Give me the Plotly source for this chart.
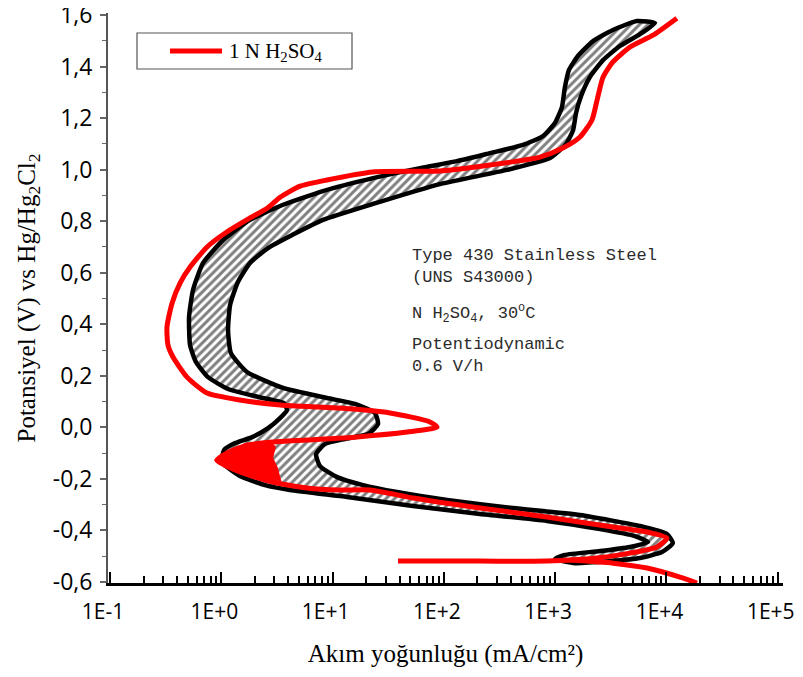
import plotly.graph_objects as go

# ---------------- data (current density mA/cm², potential V) ----------------
# outline of the hatched reference band (Type 430 stainless steel)
band_current = [5430, 3300, 2190, 1600, 1330, 1220, 1150, 995, 777, 514, 259, 131, 61, 23.1,
                8.2, 3.37, 1.81, 1.04, 0.686, 0.557, 0.513, 0.524, 0.593, 0.759, 1.15, 2.14,
                3.66, 3.89, 3.37, 2.63, 1.89, 1.33, 1.06, 1.01, 1.47, 2.47, 4.14, 13.5, 52.7,
                211, 844, 2530, 5210, 6820, 4700, 2530, 1220, 995, 1510, 3110, 5780, 9100,
                11400, 10100, 5780, 1670, 418, 107, 37.9, 18.8, 11.0, 7.7, 7.1, 8.5, 12.9,
                20.8, 25.6, 24.0, 15.9, 8.9, 3.58, 1.70, 1.22, 1.15, 1.20, 1.41, 1.81, 2.63,
                4.32, 8.2, 23.1, 92, 369, 898, 1250, 1450, 1540, 1710, 2050, 2690, 3820,
                5780, 7890]
band_potential = [1.577, 1.542, 1.499, 1.441, 1.387, 1.317, 1.243, 1.181, 1.130, 1.096, 1.064,
                  1.033, 1.006, 0.967, 0.917, 0.859, 0.805, 0.727, 0.638, 0.533, 0.428, 0.319,
                  0.253, 0.195, 0.149, 0.118, 0.094, 0.067, 0.036, -0.003, -0.038, -0.061,
                  -0.088, -0.134, -0.189, -0.224, -0.243, -0.270, -0.305, -0.336, -0.363,
                  -0.395, -0.422, -0.445, -0.464, -0.480, -0.495, -0.511, -0.527, -0.519,
                  -0.507, -0.484, -0.449, -0.414, -0.383, -0.340, -0.313, -0.282, -0.251,
                  -0.224, -0.193, -0.150, -0.104, -0.065, -0.045, -0.026, 0.013, 0.056, 0.091,
                  0.114, 0.153, 0.215, 0.288, 0.378, 0.475, 0.564, 0.638, 0.696, 0.746, 0.805,
                  0.867, 0.944, 0.999, 1.045, 1.099, 1.154, 1.220, 1.286, 1.359, 1.425, 1.480,
                  1.526, 1.569]

# 1 N H2SO4 measured curve
curve_current = [12400, 7570, 4700, 3300, 2690, 2380, 2140, 1670, 1170, 730, 259, 92, 23,
                 8.9, 5.1, 3.4, 2.6, 1.8, 1.12, 0.745, 0.524, 0.426, 0.361, 0.325, 0.332,
                 0.368, 0.492, 0.745, 1.47, 3.4, 11.6, 32.8, 75, 86.7, 46.6, 16.6, 5.9, 2.9,
                 1.70, 1.12, 0.91, 1.47, 2.9, 5.9, 11.6, 21.7, 52.7, 211, 844, 3300, 6680,
                 10100, 8200, 4700, 2380, 844, 211, 38.7]
curve_potential = [1.588, 1.522, 1.476, 1.418, 1.359, 1.270, 1.193, 1.127, 1.084, 1.049, 1.018,
                   0.995, 0.991, 0.960, 0.936, 0.894, 0.851, 0.812, 0.758, 0.700, 0.622, 0.560,
                   0.482, 0.389, 0.319, 0.273, 0.195, 0.133, 0.106, 0.087, 0.075, 0.056, 0.021,
                   0.001, -0.018, -0.037, -0.049, -0.057, -0.069, -0.100, -0.127, -0.173,
                   -0.212, -0.235, -0.243, -0.243, -0.274, -0.313, -0.348, -0.387, -0.406,
                   -0.430, -0.464, -0.488, -0.507, -0.519, -0.519, -0.519]
cathodic_current = [1360, 3300, 6680, 13200, 18800]
cathodic_potential = [-0.515, -0.527, -0.546, -0.581, -0.604]
blob_current = [0.877, 1.15, 1.81, 2.74, 3.03, 2.86, 3.16, 3.37, 2.23, 1.47, 1.08]
blob_potential = [-0.127, -0.096, -0.073, -0.057, -0.076, -0.119, -0.158, -0.204, -0.193,
                  -0.170, -0.150]

x_tick_vals = [0.1, 1, 10, 100, 1000, 10000, 100000]
x_tick_text = ["1E-1", "1E+0", "1E+1", "1E+2", "1E+3", "1E+4", "1E+5"]
y_tick_vals = [-0.6, -0.4, -0.2, 0.0, 0.2, 0.4, 0.6, 0.8, 1.0, 1.2, 1.4, 1.6]
y_tick_text = ["-0,6", "-0,4", "-0,2", "0,0", "0,2", "0,4", "0,6", "0,8", "1,0", "1,2", "1,4", "1,6"]
series_name = "1 N H<sub>2</sub>SO<sub>4</sub>"

# ---------------- layout helpers (page pixel coordinates) ----------------
PAGE_W, PAGE_H, OFF = 803, 677, 8          # browser body margin is 8 px
W, H = PAGE_W - 2 * OFF, PAGE_H - OFF
L, R, T, B = 108, 783, 13, 583             # plot frame on the page


def xp(px):
    return (px - L) / (R - L)


def yp(py):
    return (B - py) / (B - T)


minor_log = [m * 10 ** k for k in range(-1, 5) for m in range(2, 10)]

fig = go.Figure()

fig.add_trace(go.Scatter(
    x=band_current + band_current[:1], y=band_potential + band_potential[:1],
    mode="lines", fill="toself", line_shape="spline",
    fillcolor="white",
    fillpattern=dict(shape="/", fgcolor="black", bgcolor="white", size=6, solidity=0.5),
    line=dict(color="black", width=4.5, smoothing=0.5), hoverinfo="skip", showlegend=False))

fig.add_trace(go.Scatter(
    x=blob_current + blob_current[:1], y=blob_potential + blob_potential[:1],
    mode="lines", fill="toself", fillcolor="#ff0000",
    line=dict(color="#ff0000", width=2), hoverinfo="skip", showlegend=False))

fig.add_trace(go.Scatter(
    x=curve_current, y=curve_potential, mode="lines", name=series_name,
    line=dict(color="#ff0000", width=5, shape="spline", smoothing=0.6), showlegend=False))
fig.add_trace(go.Scatter(
    x=cathodic_current, y=cathodic_potential, mode="lines", name=series_name,
    line=dict(color="#ff0000", width=5, shape="spline", smoothing=0.6), showlegend=False))

xtickfont = dict(family="Open Sans", size=21, color="black")
ytickfont = dict(family="Open Sans", size=23, color="black")
titlefont = dict(family="Liberation Serif", size=25, color="black")

fig.update_layout(
    width=W, height=H,
    margin=dict(l=L - OFF, r=(W + OFF) - R, t=T - OFF, b=(H + OFF) - B, autoexpand=False),
    paper_bgcolor="white", plot_bgcolor="white",
    showlegend=False,
    xaxis=dict(
        type="log", range=[-1.018, 5.047], tickvals=x_tick_vals, ticktext=x_tick_text,
        ticks="inside", ticklen=11, tickwidth=2, tickcolor="black",
        minor=dict(ticks="inside", ticklen=7, tickwidth=1.5, tickcolor="black",
                   tickvals=minor_log, showgrid=False),
        showline=True, linecolor="black", linewidth=3, showgrid=False, zeroline=False,
        tickfont=xtickfont, ticklabelstandoff=8, ticklabelshift=-7,
        ticklabeloverflow="allow",
        title=dict(text="Akım yoğunluğu (mA/cm²)", font=titlefont, standoff=21)),
    xaxis2=dict(
        type="log", range=[-1.018, 5.047], overlaying="x", side="top", anchor="y",
        tickvals=x_tick_vals, ticks="inside", ticklen=15, tickwidth=2, tickcolor="black",
        minor=dict(ticks="inside", ticklen=9, tickwidth=1.5, tickcolor="black",
                   tickvals=minor_log, showgrid=False),
        showticklabels=False, showline=True, linecolor="black", linewidth=2.5,
        showgrid=False, zeroline=False),
    yaxis=dict(
        range=[-0.604, 1.608], tickvals=y_tick_vals, ticktext=y_tick_text,
        ticks="outside", ticklen=6, tickwidth=1.5, tickcolor="#666",
        minor=dict(ticks="outside", ticklen=4, tickwidth=1.2, tickcolor="#666", dtick=0.1,
                   tick0=0, showgrid=False),
        showline=True, linecolor="#555", linewidth=2, showgrid=False, zeroline=False,
        tickfont=ytickfont, ticklabelstandoff=3, ticklabeloverflow="allow",
        title=dict(text="Potansiyel (V) vs Hg/Hg<sub>2</sub>Cl<sub>2</sub>", font=titlefont,
                   standoff=10)),
    yaxis2=dict(
        range=[-0.604, 1.608], overlaying="y", side="right", anchor="x",
        tickvals=y_tick_vals, ticks="inside", ticklen=11, tickwidth=3, tickcolor="black",
        mirror="ticks", showticklabels=False, showline=True, linecolor="black", linewidth=2.5,
        showgrid=False, zeroline=False),
)

# manual legend box
fig.add_shape(type="rect", xref="paper", yref="paper", x0=xp(137), x1=xp(352), y0=yp(69),
              y1=yp(33), line=dict(color="#555", width=1.2), fillcolor="white")
fig.add_shape(type="line", xref="paper", yref="paper", x0=xp(170), x1=xp(222), y0=yp(51),
              y1=yp(51), line=dict(color="#ff0000", width=5))
fig.add_annotation(xref="paper", yref="paper", x=xp(227), y=yp(52), xanchor="left",
                   yanchor="middle", text=series_name, showarrow=False,
                   font=dict(family="Liberation Serif", size=21, color="black"))

# figure text block
mono = dict(family="Liberation Mono", size=17, color="#2b2b2b")
info_blocks = ["Type 430 Stainless Steel<br>(UNS S43000)",
               "N H<sub>2</sub>SO<sub>4</sub>, 30<sup>o</sup>C",
               "Potentiodynamic<br>0.6 V/h"]
info_y = [266, 313, 355]
for txt, yy in zip(info_blocks, info_y):
    fig.add_annotation(xref="paper", yref="paper", x=xp(410), y=yp(yy), xanchor="left",
                       yanchor="middle", align="left", text=txt, showarrow=False, font=mono)

fig.write_html("out.html")
